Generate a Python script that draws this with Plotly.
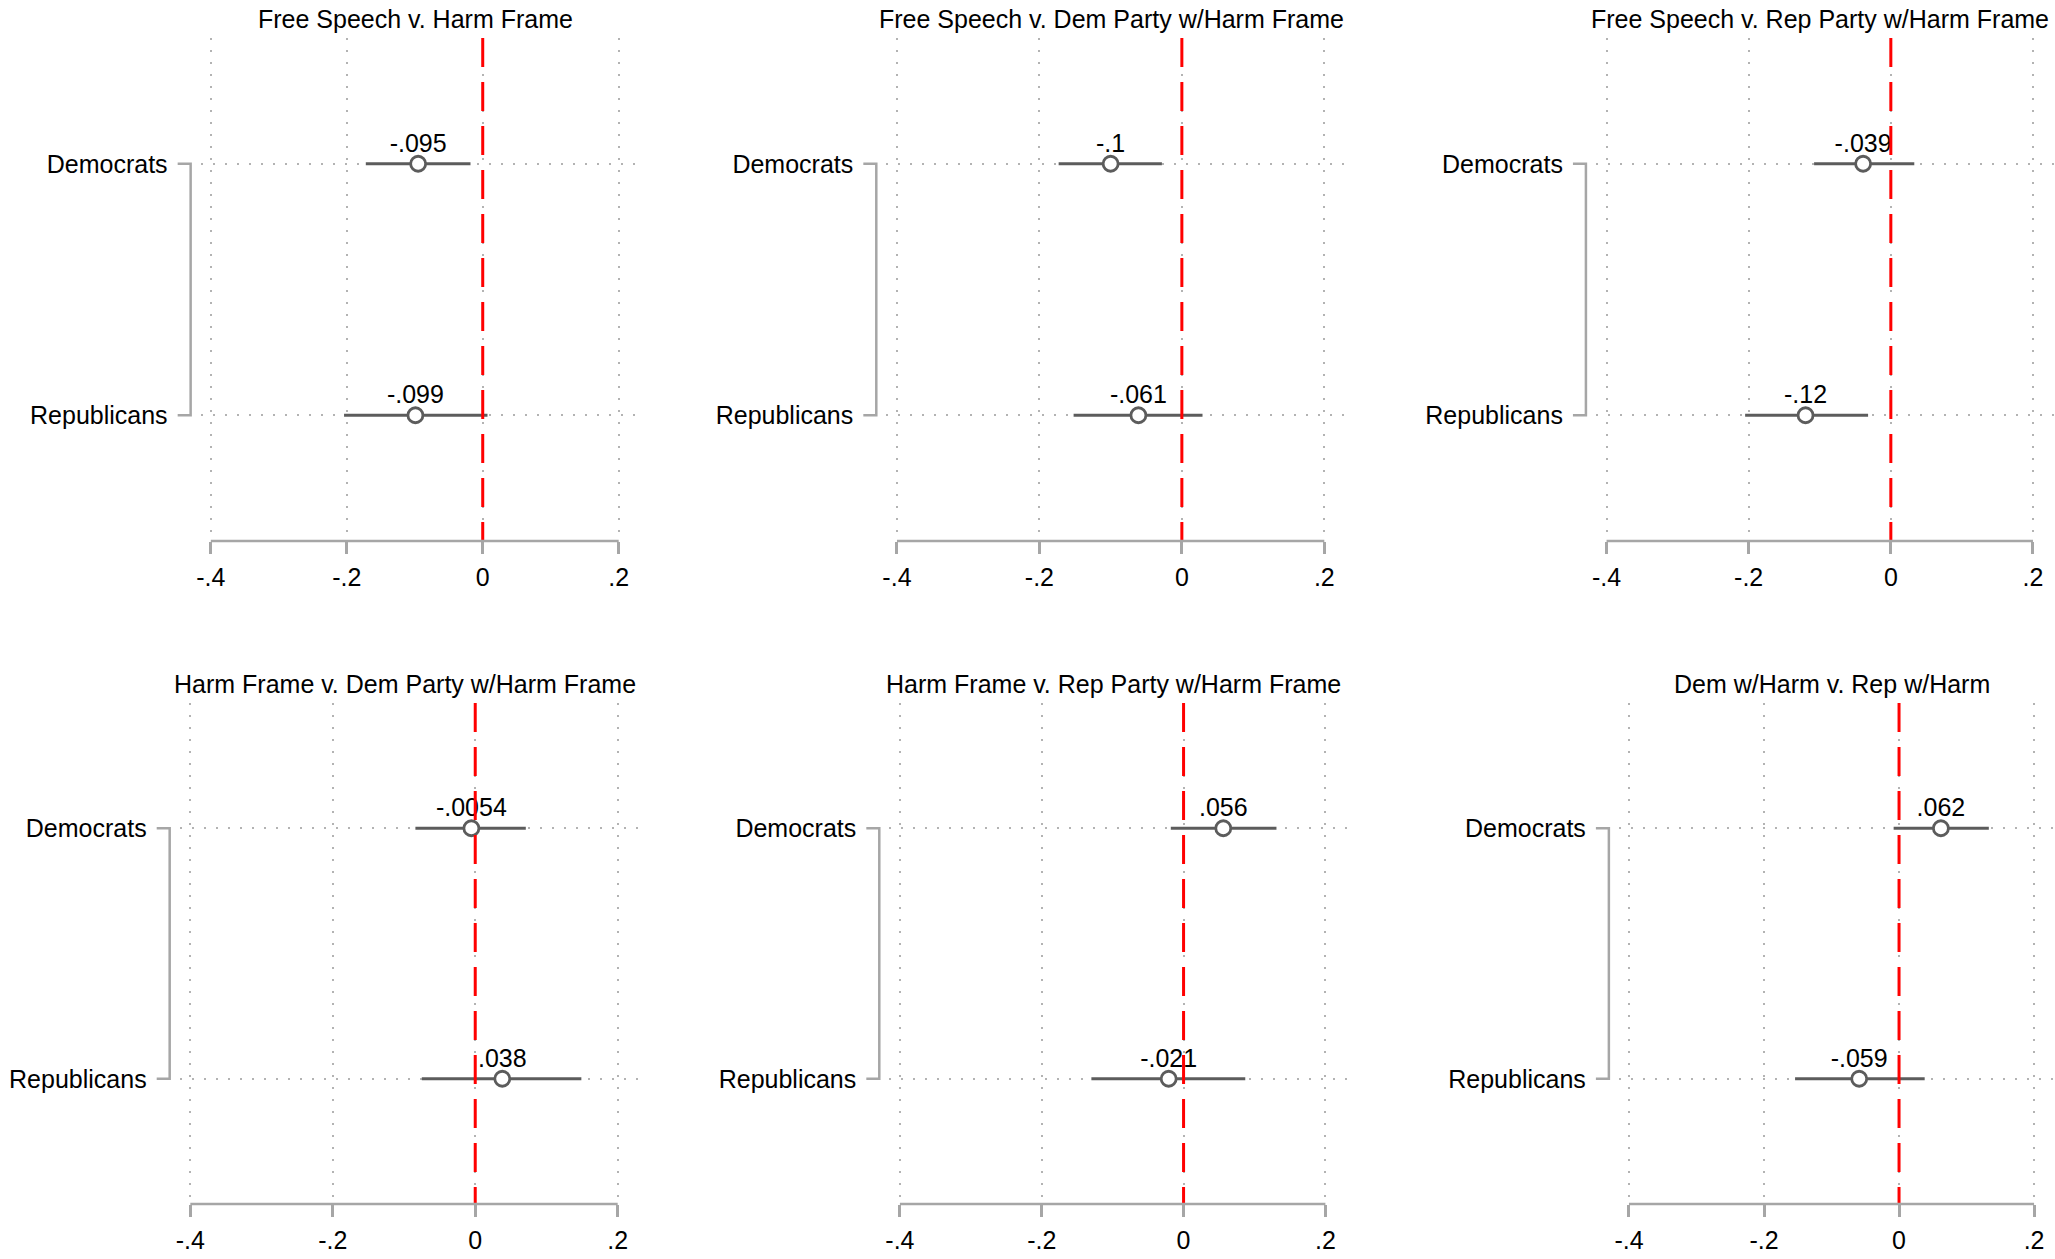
import plotly.graph_objects as go

W, H = 2055, 1259

# Data
######################################################################
groups = ["Democrats", "Republicans"]
titles = ["Free Speech v. Harm Frame",
          "Free Speech v. Dem Party w/Harm Frame",
          "Free Speech v. Rep Party w/Harm Frame",
          "Harm Frame v. Dem Party w/Harm Frame",
          "Harm Frame v. Rep Party w/Harm Frame",
          "Dem w/Harm v. Rep w/Harm"]

# point estimates (Democrats, Republicans) per panel
est = [[-0.095, -0.099],
       [-0.1, -0.061],
       [-0.039, -0.12],
       [-0.0054, 0.038],
       [0.056, -0.021],
       [0.062, -0.059]]
# confidence interval bounds
ci_lo = [[-0.172, -0.204],
         [-0.173, -0.152],
         [-0.108, -0.205],
         [-0.084, -0.075],
         [-0.018, -0.130],
         [-0.008, -0.154]]
ci_hi = [[-0.018, 0.007],
         [-0.028, 0.029],
         [0.033, -0.032],
         [0.071, 0.149],
         [0.131, 0.087],
         [0.133, 0.038]]

xticks = [-0.4, -0.2, 0, 0.2]
xticklabels = ["-.4", "-.2", "0", ".2"]

# Layout (pixel boxes: left, right, top, bottom)
######################################################################
boxes = [(197, 637, 38, 541), (884, 1345, 38, 541), (1595, 2055, 38, 541),
         (176, 637, 703, 1204), (887, 1346, 703, 1204), (1618, 2055, 703, 1204)]
xr = [-0.415, 0.231]

FONT = "Liberation Sans, Arial, Helvetica, sans-serif"
AXCOL = "#a6a6a6"
GRIDCOL = "#b3b3b3"
CICOL = "#5c5c5c"


def stata_fmt(v):
    return f"{v:.2g}".replace("0.", ".", 1)


def px(x):
    return x / W


def py(y):
    return 1 - y / H


fig = go.Figure()
shapes = []
annotations = []

for i in range(6):
    n = "" if i == 0 else str(i + 1)
    L, R, T, B = boxes[i]

    # CI bars + hollow markers
    fig.add_trace(go.Scatter(
        x=est[i], y=groups,
        mode="markers",
        marker=dict(size=15, color="white", line=dict(color=CICOL, width=2.8)),
        error_x=dict(type="data", symmetric=False,
                     array=[h - e for h, e in zip(ci_hi[i], est[i])],
                     arrayminus=[e - l for e, l in zip(est[i], ci_lo[i])],
                     width=0, thickness=3.2, color=CICOL),
        cliponaxis=False, showlegend=False,
        xaxis="x" + n, yaxis="y" + n))
    # value labels (invisible small marker just sets the text offset)
    fig.add_trace(go.Scatter(
        x=est[i], y=groups,
        mode="markers+text",
        text=[stata_fmt(v) for v in est[i]],
        textposition="top center",
        textfont=dict(size=25, color="black", family=FONT),
        marker=dict(size=8, opacity=0),
        cliponaxis=False, showlegend=False, hoverinfo="skip",
        xaxis="x" + n, yaxis="y" + n))

    fig.layout["xaxis" + n] = dict(
        domain=[px(L), px(R)], range=xr, anchor="y" + n,
        tickvals=xticks, ticktext=xticklabels,
        ticks="outside", ticklen=12, tickwidth=2.5, tickcolor=AXCOL,
        ticklabelstandoff=2,
        showgrid=True, gridcolor=GRIDCOL, gridwidth=2, griddash="2px,10px",
        zeroline=False, showline=False,
        tickfont=dict(size=25, color="black", family=FONT))
    fig.layout["yaxis" + n] = dict(
        domain=[py(B), py(T)], anchor="x" + n,
        type="category", categoryorder="array", categoryarray=groups,
        range=[1.5, -0.5],
        ticks="", ticklabelstandoff=32,
        showgrid=True, gridcolor=GRIDCOL, gridwidth=2, griddash="2px,10px",
        zeroline=False, showline=False,
        tickfont=dict(size=25, color="black", family=FONT))

    # red reference line at zero
    shapes.append(dict(type="line", xref="x" + n, yref="y" + n,
                       x0=0, x1=0, y0=-0.5, y1=1.5, layer="above",
                       line=dict(color="#ff0000", width=3, dash="29px,15px")))

    # x axis line from -.4 to .2
    def xpix(v):
        return L + (v - xr[0]) / (xr[1] - xr[0]) * (R - L)
    shapes.append(dict(type="line", xref="paper", yref="paper",
                       x0=px(xpix(xticks[0])), x1=px(xpix(xticks[-1])),
                       y0=py(B), y1=py(B),
                       line=dict(color=AXCOL, width=2.5)))

    # y axis bracket between the two rows
    A = L - 10
    yD = T + 0.25 * (B - T)
    yR = T + 0.75 * (B - T)
    path = (f"M {px(A - 13)},{py(yD)} L {px(A)},{py(yD)} "
            f"L {px(A)},{py(yR)} L {px(A - 13)},{py(yR)}")
    shapes.append(dict(type="path", xref="paper", yref="paper", path=path,
                       line=dict(color=AXCOL, width=2.5)))

    annotations.append(dict(text=titles[i], xref="paper", yref="paper",
                            x=px((L + R) / 2 - 5), y=py(T - 19),
                            xanchor="center", yanchor="middle", showarrow=False,
                            font=dict(size=25, color="black", family=FONT)))

fig.update_layout(
    width=W, height=H,
    margin=dict(l=0, r=0, t=0, b=0),
    paper_bgcolor="white", plot_bgcolor="white",
    shapes=shapes, annotations=annotations,
    font=dict(family=FONT, color="black"))

# drop the browser's default body margin so the figure fills the window
fig.write_html("out.html", config={"displayModeBar": False},
               post_script="document.body.style.margin='0';")
